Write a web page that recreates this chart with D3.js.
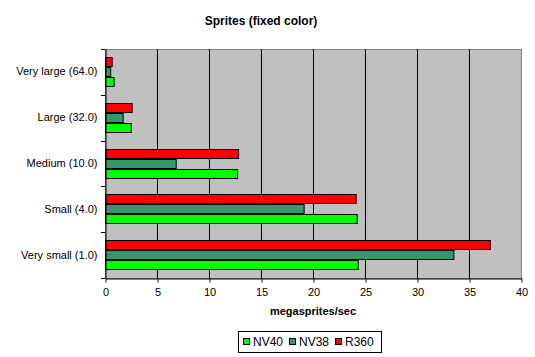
<!DOCTYPE html>
<html>
<head>
<meta charset="utf-8">
<script src="https://cdn.jsdelivr.net/npm/d3@7"></script>
<style>
body{margin:0;background:#fff;}
text{font-family:"Liberation Sans",Arial,sans-serif;}
</style>
</head>
<body>
<svg id="chart" width="535" height="357"></svg>
<script>
const categories = ["Very large (64.0)", "Large (32.0)", "Medium (10.0)", "Small (4.0)", "Very small (1.0)"];
const seriesNames = ["R360", "NV38", "NV40"];
const legendOrder = ["NV40", "NV38", "R360"];
const R360 = [0.64, 2.56, 12.8, 24.1, 37.0];
const NV38 = [0.5, 1.7, 6.8, 19.1, 33.5];
const NV40 = [0.83, 2.47, 12.7, 24.2, 24.3];
const xTicks = [0, 5, 10, 15, 20, 25, 30, 35, 40];
const colors = {NV40: "#00ff00", NV38: "#339966", R360: "#ff0000"};
const values = {R360, NV38, NV40};

const svg = d3.select("#chart");
const pL = 105, pR = 521, pT = 49, pB = 278;

const x = d3.scaleLinear().domain([0, 40]).range([pL, pR]);
const y = d3.scaleBand().domain(categories).range([pT, pB]).padding(0);
const inner = d3.scaleBand().domain(seriesNames).range([0, y.bandwidth()]).paddingInner(0).paddingOuter(0.79);

// plot background
svg.append("rect").attr("x", pL + 0.5).attr("y", pT + 0.5).attr("width", pR - pL).attr("height", pB - pT)
  .attr("fill", "#c0c0c0").attr("stroke", "#808080").attr("stroke-width", 1);

// gridlines
svg.append("g").selectAll("line").data(xTicks.filter(d => d > 0 && d < 40)).join("line")
  .attr("x1", d => Math.round(x(d)) + 0.5).attr("x2", d => Math.round(x(d)) + 0.5)
  .attr("y1", pT).attr("y2", pB).attr("stroke", "#000").attr("stroke-width", 1);

// bars
const g = svg.append("g");
categories.forEach((c, i) => {
  seriesNames.forEach(s => {
    g.append("rect")
      .attr("x", x(0) + 0.5)
      .attr("y", Math.round(y(c) + inner(s)) + 0.5)
      .attr("width", x(values[s][i]) - x(0))
      .attr("height", Math.round(inner.bandwidth()) - 1)
      .attr("fill", colors[s]).attr("stroke", "#000").attr("stroke-width", 1);
  });
});

// x axis
const xAxis = d3.axisBottom(x).tickValues(xTicks).tickSize(4).tickPadding(6).tickSizeOuter(0);
const gx = svg.append("g").attr("transform", `translate(0.5,${pB + 0.5})`).call(xAxis);
gx.select(".domain").attr("stroke", "#000");
gx.selectAll("text").attr("font-size", 11).attr("fill", "#000").attr("font-family", "Liberation Sans, Arial, sans-serif");

// y axis
const yAxis = d3.axisLeft(y).tickSize(0).tickPadding(8);
const gy = svg.append("g").attr("transform", `translate(${pL + 0.5},0)`).call(yAxis);
gy.select(".domain").attr("stroke", "#000");
gy.selectAll("text").attr("font-size", 11).attr("fill", "#000").attr("font-family", "Liberation Sans, Arial, sans-serif");
// category boundary ticks
const bounds = categories.map(c => y(c)).concat([pB]);
svg.append("g").selectAll("line").data(bounds).join("line")
  .attr("x1", pL - 4).attr("x2", pL).attr("y1", d => Math.round(d) + 0.5).attr("y2", d => Math.round(d) + 0.5)
  .attr("stroke", "#000");

// title
svg.append("text").attr("x", 261).attr("y", 25).attr("text-anchor", "middle")
  .attr("font-size", 12).attr("font-weight", "bold").text("Sprites (fixed color)");
svg.append("text").attr("x", (pL + pR) / 2).attr("y", 315).attr("text-anchor", "middle")
  .attr("font-size", 11).attr("font-weight", "bold").text("megasprites/sec");

// legend
const lg = svg.append("g").attr("transform", "translate(238,331)");
lg.append("rect").attr("x", 0.5).attr("y", 0.5).attr("width", 143).attr("height", 21)
  .attr("fill", "#fff").attr("stroke", "#000");
const offs = [5, 51, 97];
legendOrder.forEach((s, i) => {
  lg.append("rect").attr("x", offs[i] + 0.5).attr("y", 7.5).attr("width", 6).attr("height", 6)
    .attr("fill", colors[s]).attr("stroke", "#000");
  lg.append("text").attr("x", offs[i] + 10).attr("y", 15).attr("font-size", 12).text(s);
});
</script>
</body>
</html>
